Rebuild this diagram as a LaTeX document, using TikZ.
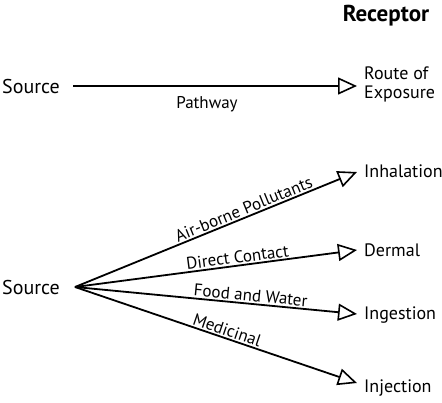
\documentclass[tikz,border=0pt]{standalone}
\usepackage{fontspec}
\setmainfont{PT Sans}
\usetikzlibrary{arrows.meta}
\begin{document}
\begin{tikzpicture}[x=1pt,y=-1pt,
  conn/.style={line width=1.8pt,-{Triangle[open,length=19pt,width=17pt,line width=1.6pt]}},
  lbl/.style={font=\fontsize{20}{22}\selectfont,inner sep=0pt},
  rlbl/.style={font=\fontsize{18}{19}\selectfont,inner sep=0pt,anchor=west},
  plbl/.style={font=\fontsize{17}{19}\selectfont,inner sep=1.5pt,sloped,above}]
\useasboundingbox (0,0) rectangle (442,402);
\node[font=\fontsize{23}{25}\selectfont\bfseries,inner sep=0pt] (rec) at (386,16) {Receptor};
% top
\node[lbl,anchor=east] (s1) at (60,86) {Source};
\coordinate (a1) at (73,86);
\coordinate (t1) at (357,86);
\node[rlbl,align=left] (r1) at (364,84) {Route of\\Exposure};
\draw[conn] (a1) -- (t1);
\node[font=\fontsize{17}{19}\selectfont,inner sep=0pt] (pw) at (207,104) {Pathway};
% bottom
\node[lbl,anchor=east] (s2) at (60,287) {Source};
\coordinate (o) at (75,287);
\coordinate (ti1) at (357,172);
\coordinate (ti2) at (357,250);
\coordinate (ti3) at (357,314);
\coordinate (ti4) at (357,383);
\node[rlbl] (inh) at (364,171) {Inhalation};
\node[rlbl] (der) at (364,250) {Dermal};
\node[rlbl] (ing) at (364,315) {Ingestion};
\node[rlbl] (inj) at (364,388) {Injection};
\draw[conn] (o) -- node[plbl,pos=0.61] {Air-borne Pollutants} (ti1);
\draw[conn] (o) -- node[plbl,pos=0.58] {Direct Contact} (ti2);
\draw[conn] (o) -- node[plbl,pos=0.62] {Food and Water} (ti3);
\draw[conn] (o) -- node[plbl,pos=0.53] {Medicinal} (ti4);
\end{tikzpicture}
\end{document}
